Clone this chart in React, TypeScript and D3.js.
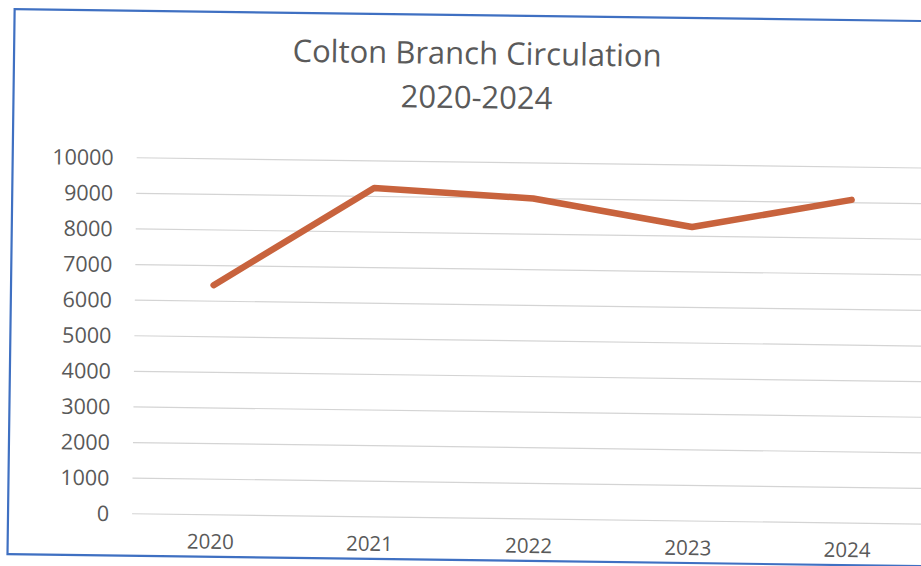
import React from "react";
import * as d3 from "d3";

const years = ["2020", "2021", "2022", "2023", "2024"];
const circulation = [6450, 9240, 9000, 8260, 9080];
const yTicks = [0, 1000, 2000, 3000, 4000, 5000, 6000, 7000, 8000, 9000, 10000];
const titleLines = ["Colton Branch Circulation", "2020-2024"];

const W = 921;
const H = 566;
const FONT = "'Open Sans', 'DejaVu Sans', sans-serif";

export default function App() {
  const x = d3.scaleBand<string>().domain(years).range([134, 930]);
  const y = d3.scaleLinear().domain([0, 10000]).range([518, 162]);
  const line = d3
    .line<number>()
    .x((_, i) => (x(years[i]) as number) + x.bandwidth() / 2)
    .y((d) => y(d));

  return (
    <svg
      width={W}
      height={H}
      style={{ position: "absolute", left: 0, top: 0, background: "#fff" }}
    >
      <rect width={W} height={H} fill="#fff" />
      <g transform="rotate(0.75 460 290)">
        <rect
          x={11}
          y={15}
          width={940}
          height={545}
          fill="#fff"
          stroke="#3f70c2"
          strokeWidth={2.2}
        />
        {titleLines.map((t, i) => (
          <text
            key={t}
            x={474}
            y={64 + i * 44}
            textAnchor="middle"
            fontFamily={FONT}
            fontSize={31}
            fill="#5a5a5a"
          >
            {t}
          </text>
        ))}
        {yTicks.map((t) => (
          <g key={t}>
            <line
              x1={135}
              x2={940}
              y1={y(t)}
              y2={y(t)}
              stroke="#d4d4d4"
              strokeWidth={1.2}
            />
            <text
              x={112}
              y={y(t)}
              dy="0.36em"
              textAnchor="end"
              fontFamily={FONT}
              fontSize={21.5}
              fill="#595959"
            >
              {t}
            </text>
          </g>
        ))}
        {years.map((yr) => (
          <text
            key={yr}
            x={(x(yr) as number) + x.bandwidth() / 2}
            y={552}
            textAnchor="middle"
            fontFamily={FONT}
            fontSize={20.5}
            fill="#595959"
          >
            {yr}
          </text>
        ))}
        <path
          d={line(circulation) || ""}
          fill="none"
          stroke="#c8633d"
          strokeWidth={6.5}
          strokeLinejoin="round"
          strokeLinecap="round"
        />
      </g>
    </svg>
  );
}
